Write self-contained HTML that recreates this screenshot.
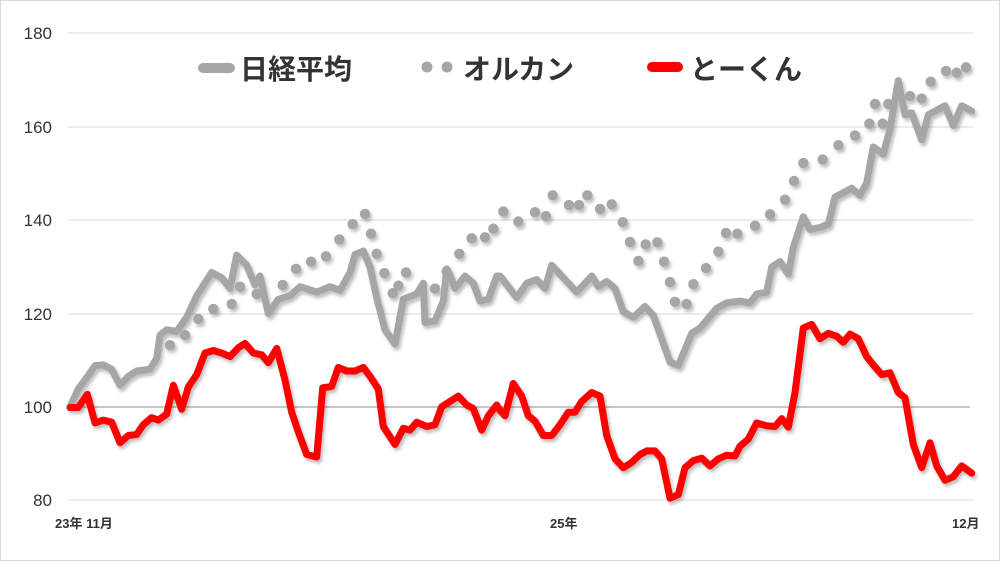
<!DOCTYPE html>
<html><head><meta charset="utf-8">
<style>
html,body{margin:0;padding:0;background:#fff;}
svg{display:block;}
text{font-family:"Liberation Sans","Noto Sans CJK JP",sans-serif;fill:#333;}
</style></head>
<body>
<svg id="s" width="1000" height="561" viewBox="0 0 1000 561" xmlns="http://www.w3.org/2000/svg">
<defs>
<filter id="sh" x="-5%" y="-5%" width="110%" height="110%"><feDropShadow dx="2" dy="3" stdDeviation="1.5" flood-color="#000" flood-opacity="0.25"/></filter>
</defs>
<rect x="0.5" y="0.5" width="999" height="560" fill="#fff" stroke="#d9d9d9"/>
<g stroke="#d9d9d9" stroke-width="1">
<line x1="68" y1="33" x2="973" y2="33"/>
<line x1="68" y1="127" x2="973" y2="127"/>
<line x1="68" y1="220" x2="973" y2="220"/>
<line x1="68" y1="314" x2="973" y2="314"/>
<line x1="68" y1="500" x2="973" y2="500"/>
</g>
<line x1="68" y1="407" x2="970" y2="407" stroke="#8c8c8c" stroke-width="1"/>
<g font-size="17" text-anchor="end" fill="#262626">
<text x="52" y="39">180</text>
<text x="52" y="133">160</text>
<text x="52" y="226">140</text>
<text x="52" y="320">120</text>
<text x="52" y="413">100</text>
<text x="52" y="506">80</text>
</g>
<g font-size="13" font-weight="bold">
<text x="55" y="528">23年 11月</text>
<text x="550" y="528">25年</text>
<text x="952" y="528">12月</text>
</g>
<g id="series" filter="url(#sh)"></g>
<line x1="203" y1="68" x2="230" y2="68" stroke="#a6a6a6" stroke-width="10" stroke-linecap="round"/>
<text x="240" y="79" font-size="28" font-weight="bold">日経平均</text>
<g fill="#a6a6a6"><circle cx="427" cy="67" r="5.5"/><circle cx="447" cy="67" r="5.5"/></g>
<text x="463" y="79" font-size="28" font-weight="bold">オルカン</text>
<line x1="652" y1="67" x2="678" y2="67" stroke="#ff0000" stroke-width="10" stroke-linecap="round"/>
<text x="690" y="79" font-size="28" font-weight="bold">とーくん</text>
</svg>
<script>
var ky=2.79;
function L(a){var r=[];for(var i=0;i<a.length;i+=2)r.push([a[i]/3,a[i+1]/ky]);return r;}
function R(a){var r=[];for(var i=0;i<a.length;i+=2)r.push([500+a[i]/3,a[i+1]/ky]);return r;}
var nik=L([210,1135,235,1085,255,1060,285,1020,310,1018,335,1030,360,1075,385,1050,410,1035,450,1030,470,1000,480,935,500,920,530,925,560,885,590,825,635,760,665,775,690,805,710,712,740,740,765,795,780,770,805,875,835,835,870,825,900,800,950,815,990,800,1020,810,1050,760,1065,710,1090,700,1110,745,1130,830,1155,920,1185,960,1210,835,1250,820,1270,790,1275,900,1305,895,1330,840,1340,750,1355,780,1365,805,1395,770,1420,790,1440,840,1465,835,1490,770]).concat(R([0,770,50,830,80,790,110,780,135,805,155,740,185,770,230,815,275,770,295,800,320,785,345,805,370,870,400,885,435,855,460,880,510,1010,535,1020,575,930,600,915,650,860,680,845,720,840,750,845,770,820,800,815,815,745,840,730,865,765,880,690,910,605,930,640,960,635,985,625,1005,550,1055,525,1080,545,1100,510,1120,410,1150,430,1170,360,1195,225,1215,320,1235,315,1265,390,1285,320,1335,295,1360,350,1385,295,1415,310]));
var ork=L([510,963,555,935,595,890,640,862,695,848,720,800,770,820,848,795,888,750,933,730,978,715,1018,668,1058,625,1095,597,1113,652,1130,708,1153,762,1178,818,1195,797,1218,760,1305,805,1340,757,1378,708,1415,665,1455,662,1480,638]).concat(R([10,590,55,618,105,592,138,603,158,545,207,572,237,572,262,545,300,583,335,570,368,620,390,675,415,728,437,682,472,676,492,730,510,787,525,842,560,848,580,793,618,748,655,702,678,650,712,652,765,630,810,598,855,557,882,505,910,455,968,445,1015,405,1065,378,1108,345,1125,290,1148,345,1165,290,1195,250,1230,268,1265,275,1292,228,1338,198,1370,203,1398,188]));
var red=L([210,1137,235,1137,262,1100,285,1180,310,1172,335,1178,360,1235,385,1215,410,1212,430,1185,455,1165,475,1172,500,1155,520,1075,545,1142,565,1080,590,1045,615,985,640,978,665,985,690,995,715,970,735,958,760,985,785,990,805,1012,830,972,855,1060,875,1150,895,1205,920,1268,950,1275,968,1082,995,1078,1015,1025,1040,1035,1065,1035,1090,1025,1110,1050,1135,1085,1150,1190,1185,1240,1210,1195,1230,1200,1250,1178,1280,1190,1305,1185,1325,1135,1350,1120,1375,1105,1400,1130,1420,1140,1445,1200,1465,1160,1490,1130]).concat(R([0,1145,15,1160,40,1070,65,1105,85,1160,105,1175,130,1215,155,1215,180,1185,205,1150,225,1150,245,1120,275,1095,300,1105,320,1215,345,1280,370,1305,395,1290,420,1268,440,1258,465,1258,485,1280,510,1390,535,1380,555,1305,580,1285,605,1278,630,1300,655,1280,680,1270,705,1272,720,1245,745,1225,770,1180,800,1188,825,1190,845,1168,865,1192,885,1095,910,915,935,905,960,945,985,930,1010,938,1030,955,1050,932,1075,945,1100,995,1120,1018,1145,1045,1170,1040,1195,1095,1215,1110,1240,1240,1265,1305,1290,1235,1310,1300,1335,1340,1360,1330,1385,1300,1415,1320]));
var NS="http://www.w3.org/2000/svg",g=document.getElementById("series");
function pl(p,c,w){var e=document.createElementNS(NS,"polyline");e.setAttribute("points",p.map(function(q){return q[0].toFixed(1)+","+q[1].toFixed(1)}).join(" "));e.setAttribute("fill","none");e.setAttribute("stroke",c);e.setAttribute("stroke-width",w);e.setAttribute("stroke-linejoin","round");e.setAttribute("stroke-linecap","round");g.appendChild(e);}
ork.forEach(function(q){var c=document.createElementNS(NS,"circle");c.setAttribute("cx",q[0]);c.setAttribute("cy",q[1]);c.setAttribute("r",5.2);c.setAttribute("fill","#a6a6a6");g.appendChild(c);});
pl(nik,"#a6a6a6",7);
pl(red,"#ff0000",7);
</script>
</body></html>
